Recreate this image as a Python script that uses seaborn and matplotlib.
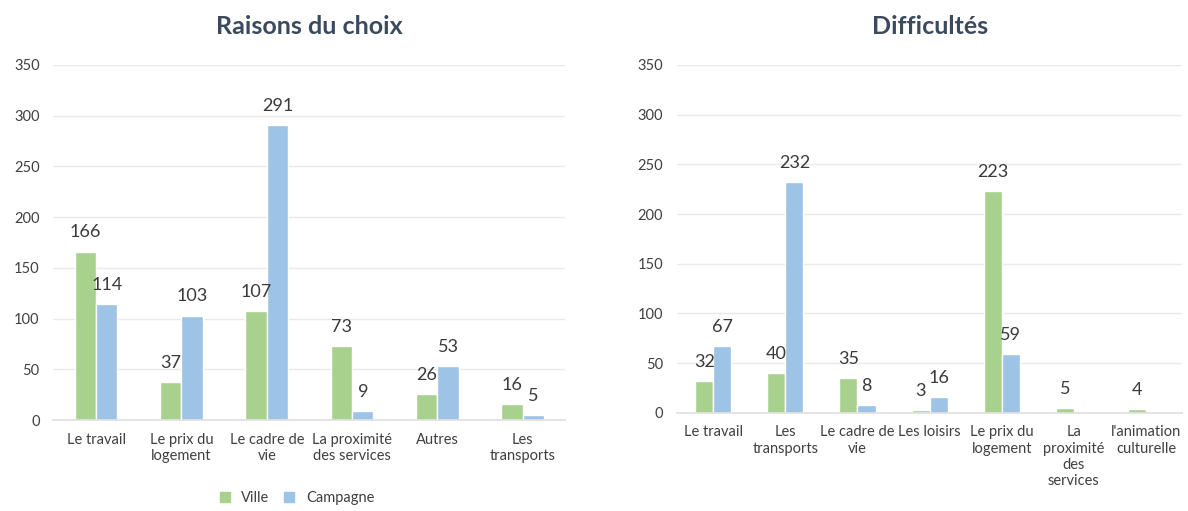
import numpy as np
import pandas as pd
from matplotlib import pyplot as plt
import seaborn as sns

# data
choix_cats = ["Le travail", "Le prix du\nlogement", "Le cadre de\nvie",
              "La proximité\ndes services", "Autres", "Les\ntransports"]
choix_ville = [166, 37, 107, 73, 26, 16]
choix_campagne = [114, 103, 291, 9, 53, 5]

diff_cats = ["Le travail", "Les\ntransports", "Le cadre de\nvie", "Les loisirs",
             "Le prix du\nlogement", "La\nproximité\ndes\nservices",
             "l'animation\nculturelle"]
diff_ville = [32, 40, 35, 3, 223, 5, 4]
diff_campagne = [67, 232, 8, 16, 59, np.nan, np.nan]

series_names = ["Ville", "Campagne"]
yticks = [0, 50, 100, 150, 200, 250, 300, 350]

GREEN = "#A9D18E"
BLUE = "#9DC3E6"
TITLE_COL = "#3B4A5E"
TEXT_COL = "#404040"

sns.set_theme(style="white")
plt.rcParams["font.family"] = ["Lato", "DejaVu Sans"]


def long_form(cats, ville, campagne):
    rows = []
    for c, v, w in zip(cats, ville, campagne):
        rows.append({"cat": c, "serie": series_names[0], "val": v})
        rows.append({"cat": c, "serie": series_names[1], "val": w})
    return pd.DataFrame(rows)


def draw(ax, cats, ville, campagne, title):
    df = long_form(cats, ville, campagne)
    sns.barplot(data=df, x="cat", y="val", hue="serie", order=cats,
                hue_order=series_names, palette=[GREEN, BLUE], width=0.5,
                saturation=1, ax=ax, legend=False)
    for cont in ax.containers:
        labels = ["" if np.isnan(b.get_height()) else f"{b.get_height():.0f}"
                  for b in cont]
        ax.bar_label(cont, labels=labels, padding=8, fontsize=13,
                     color="#3A3A3A")
    ax.set_ylim(0, 350)
    ax.set_yticks(yticks)
    ax.set_xlim(-0.5, len(cats) - 0.5)
    ax.yaxis.grid(True, color="#EAEAEA", linewidth=1)
    ax.set_axisbelow(True)
    for s in ["top", "right", "left"]:
        ax.spines[s].set_visible(False)
    ax.spines["bottom"].set_color("#E0E0E0")
    ax.tick_params(axis="both", length=0, colors=TEXT_COL, labelsize=10.5)
    ax.tick_params(axis="y", pad=10)
    ax.tick_params(axis="x", pad=9)
    ax.set_xlabel("")
    ax.set_ylabel("")
    ax.set_title(title, fontsize=18, fontweight="bold", color=TITLE_COL, pad=22)


fig = plt.figure(figsize=(11.88, 5.11), dpi=100)
ax1 = fig.add_axes([0.045, 0.178, 0.431, 0.695])
ax2 = fig.add_axes([0.57, 0.192, 0.425, 0.681])

draw(ax1, choix_cats, choix_ville, choix_campagne, "Raisons du choix")
draw(ax2, diff_cats, diff_ville, diff_campagne, "Difficultés")

handles = [plt.Rectangle((0, 0), 1, 1, color=GREEN),
           plt.Rectangle((0, 0), 1, 1, color=BLUE)]
fig.legend(handles, series_names, loc="center",
           bbox_to_anchor=(0.25, 0.025), ncol=2, frameon=False, fontsize=10.5,
           handlelength=0.7, handleheight=0.7, columnspacing=1.0,
           labelcolor=TEXT_COL)

fig.savefig("out.png", dpi=100)
